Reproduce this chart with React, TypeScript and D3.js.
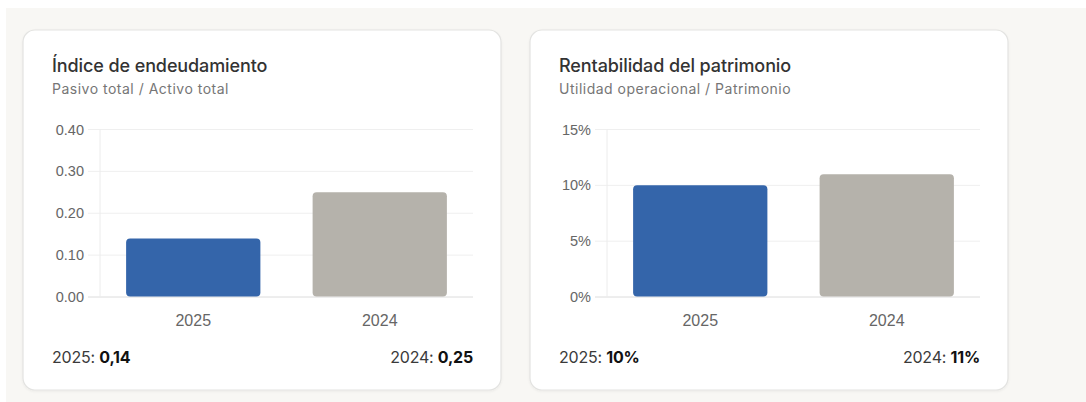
import React from "react";
import * as d3 from "d3";

// data
const years = ["2025", "2024"];
const debtValues = [0.14, 0.25];
const debtTicks = [0, 0.1, 0.2, 0.3, 0.4];
const roeValues = [0.1, 0.11];
const roeTicks = [0, 0.05, 0.1, 0.15];
const barColors = ["#3465aa", "#b5b2ab"];

const W = 1086;
const H = 402;
const CARD_Y = 30;
const CARD_H = 360;

const titleFont = "Inter, 'Noto Sans', sans-serif";
const axisFont = "'Liberation Sans', Arial, sans-serif";

type CardProps = {
  x: number;
  width: number;
  title: string;
  subtitle: string;
  values: number[];
  ticks: number[];
  tickFormat: (v: number) => string;
  valueFormat: (v: number) => string;
};

const ChartCard = ({ x, width, title, subtitle, values, ticks, tickFormat, valueFormat }: CardProps) => {
  const plotLeft = x + 77;
  const plotRight = x + width - 28;
  const plotTop = 129.5;
  const plotBottom = 297;
  const textLeft = x + 29;

  const xScale = d3.scaleBand<string>().domain(years).range([plotLeft, plotRight]).padding(0);
  const yScale = d3
    .scaleLinear()
    .domain([0, d3.max(ticks) as number])
    .range([plotBottom, plotTop]);

  const barW = xScale.bandwidth() * 0.72;

  return (
    <g>
      <rect
        x={x}
        y={CARD_Y}
        width={width}
        height={CARD_H}
        rx={12}
        fill="#fff"
        stroke="#e3e3e1"
        strokeWidth={1.2}
        filter="url(#cardShadow)"
      />
      <text x={textLeft} y={72} fontFamily={titleFont} fontSize={18} fontWeight={500} fill="#333" letterSpacing={-0.1}>
        {title}
      </text>
      <text x={textLeft} y={94} fontFamily={titleFont} fontSize={14} fill="#767676" letterSpacing={0.5}>
        {subtitle}
      </text>

      {/* grid + y ticks */}
      {ticks.map((t) => (
        <g key={t}>
          <line
            x1={plotLeft - 12}
            x2={plotRight}
            y1={yScale(t)}
            y2={yScale(t)}
            stroke={t === 0 ? "#dcdcdc" : "#efefef"}
            strokeWidth={1}
          />
          <text
            x={plotLeft - 16}
            y={yScale(t)}
            dy="0.35em"
            textAnchor="end"
            fontFamily={axisFont}
            fontSize={14.5}
            fill="#666"
          >
            {tickFormat(t)}
          </text>
        </g>
      ))}
      <line x1={plotLeft} x2={plotLeft} y1={plotTop} y2={plotBottom} stroke="#ececec" strokeWidth={1} />

      {/* bars */}
      {years.map((yr, i) => (
        <rect
          key={yr}
          x={(xScale(yr) as number) + (xScale.bandwidth() - barW) / 2}
          y={yScale(values[i])}
          width={barW}
          height={yScale(0) - yScale(values[i]) - 0.5}
          rx={4}
          fill={barColors[i]}
        />
      ))}

      {/* x labels */}
      {years.map((yr) => (
        <text
          key={yr}
          x={(xScale(yr) as number) + xScale.bandwidth() / 2}
          y={326}
          textAnchor="middle"
          fontFamily={axisFont}
          fontSize={16}
          fill="#666"
        >
          {yr}
        </text>
      ))}

      {/* footer values */}
      <text x={textLeft} y={363} fontFamily={titleFont} fontSize={16} fill="#3a3a3a" letterSpacing={-0.2}>
        {years[0]}:{" "}
        <tspan fontWeight={700} fill="#111">
          {valueFormat(values[0])}
        </tspan>
      </text>
      <text
        x={plotRight}
        y={363}
        textAnchor="end"
        fontFamily={titleFont}
        fontSize={16}
        fill="#3a3a3a"
        letterSpacing={-0.2}
      >
        {years[1]}:{" "}
        <tspan fontWeight={700} fill="#111">
          {valueFormat(values[1])}
        </tspan>
      </text>
    </g>
  );
};

const commaFmt = (v: number) => v.toFixed(2).replace(".", ",");
const pctFmt = (v: number) => `${Math.round(v * 100)}%`;

export default function App() {
  return (
    <div style={{ position: "absolute", left: 0, top: 0, width: W, height: H, background: "#fff" }}>
      <svg width={W} height={H} style={{ display: "block" }}>
        <defs>
          <filter id="cardShadow" x="-5%" y="-5%" width="110%" height="110%">
            <feDropShadow dx={0} dy={1} stdDeviation={1} floodColor="#000" floodOpacity={0.05} />
          </filter>
        </defs>
        <rect x={6} y={8} width={W - 6} height={H - 8} fill="#f8f7f4" />
        <ChartCard
          x={23}
          width={478}
          title="Índice de endeudamiento"
          subtitle="Pasivo total / Activo total"
          values={debtValues}
          ticks={debtTicks}
          tickFormat={d3.format(".2f")}
          valueFormat={commaFmt}
        />
        <ChartCard
          x={530}
          width={478}
          title="Rentabilidad del patrimonio"
          subtitle="Utilidad operacional / Patrimonio"
          values={roeValues}
          ticks={roeTicks}
          tickFormat={(v) => `${Math.round(v * 100)}%`}
          valueFormat={pctFmt}
        />
      </svg>
    </div>
  );
}
